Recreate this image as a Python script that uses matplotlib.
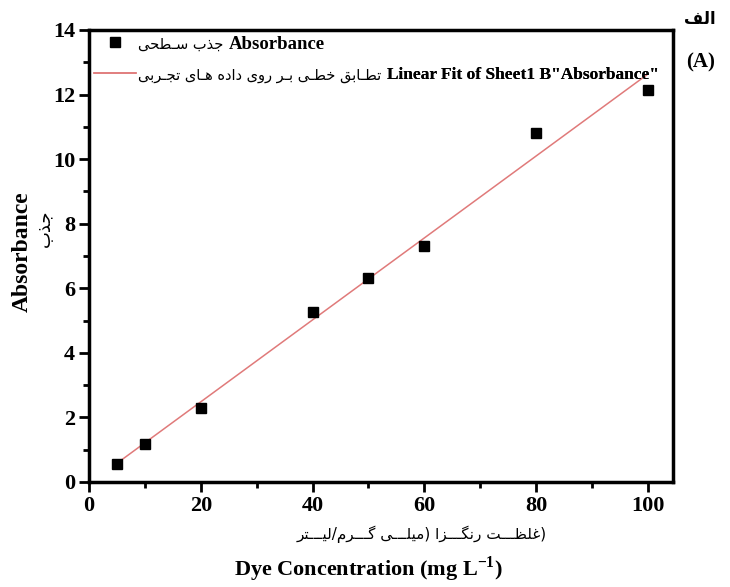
import matplotlib
matplotlib.use("Agg")
import matplotlib.pyplot as plt
import numpy as np
from matplotlib.ticker import MultipleLocator

# Dye concentration vs absorbance, with linear fit

conc = [5, 10, 20, 40, 50, 60, 80, 100]
absorb = [0.55, 1.18, 2.30, 5.26, 6.33, 7.30, 10.80, 12.15]

# Persian presentation forms: isolated, final, initial, medial
FORMS = {
    'ا': ('\uFE8D', '\uFE8E'),
    'ب': ('\uFE8F', '\uFE90', '\uFE91', '\uFE92'),
    'ت': ('\uFE95', '\uFE96', '\uFE97', '\uFE98'),
    'ج': ('\uFE9D', '\uFE9E', '\uFE9F', '\uFEA0'),
    'ح': ('\uFEA1', '\uFEA2', '\uFEA3', '\uFEA4'),
    'خ': ('\uFEA5', '\uFEA6', '\uFEA7', '\uFEA8'),
    'د': ('\uFEA9', '\uFEAA'),
    'ذ': ('\uFEAB', '\uFEAC'),
    'ر': ('\uFEAD', '\uFEAE'),
    'ز': ('\uFEAF', '\uFEB0'),
    'س': ('\uFEB1', '\uFEB2', '\uFEB3', '\uFEB4'),
    'ط': ('\uFEC1', '\uFEC2', '\uFEC3', '\uFEC4'),
    'ظ': ('\uFEC5', '\uFEC6', '\uFEC7', '\uFEC8'),
    'غ': ('\uFECD', '\uFECE', '\uFECF', '\uFED0'),
    'ف': ('\uFED1', '\uFED2', '\uFED3', '\uFED4'),
    'ق': ('\uFED5', '\uFED6', '\uFED7', '\uFED8'),
    'ل': ('\uFEDD', '\uFEDE', '\uFEDF', '\uFEE0'),
    'م': ('\uFEE1', '\uFEE2', '\uFEE3', '\uFEE4'),
    'ن': ('\uFEE5', '\uFEE6', '\uFEE7', '\uFEE8'),
    'ه': ('\uFEE9', '\uFEEA', '\uFEEB', '\uFEEC'),
    'و': ('\uFEED', '\uFEEE'),
    'ی': ('\uFBFC', '\uFBFD', '\uFBFE', '\uFBFF'),
    'گ': ('\uFB92', '\uFB93', '\uFB94', '\uFB95'),
    'ـ': ('\u0640',) * 4,
}


def shape(s):
    out = []
    for i, c in enumerate(s):
        if c not in FORMS:
            out.append(c)
            continue
        f = FORMS[c]
        prev = s[i - 1] if i > 0 else ''
        nxt = s[i + 1] if i + 1 < len(s) else ''
        jp = prev in FORMS and len(FORMS[prev]) == 4
        jn = len(f) == 4 and nxt in FORMS
        if jp and jn:
            out.append(f[3])
        elif jp:
            out.append(f[1])
        elif jn:
            out.append(f[2])
        else:
            out.append(f[0])
    return ''.join(out)


def rtl(s):
    v = shape(s)[::-1]
    return v.translate(str.maketrans('()', ')('))


fa_points = rtl('جذب سـطحی')
fa_fit = rtl('تطـابق خطـی بـر روی داده هـای تجـربی')
fa_xlabel = rtl('(غلظـــت رنگـــزا (میلـــی گـــرم/لیـــتر')
fa_ylabel = rtl('جذب')
fa_panel = rtl('الف')
en_labels = ['Absorbance', 'Linear Fit of Sheet1 B"Absorbance"']
fa_labels = [fa_points, fa_fit]

plt.rcParams['mathtext.fontset'] = 'custom'
plt.rcParams['mathtext.rm'] = 'Liberation Serif'
plt.rcParams['mathtext.bf'] = 'Liberation Serif:bold'

fs_leg = [13.5, 12.5]
fs_fa = [10.5, 10.5]

fig = plt.figure(figsize=(7.30, 5.87), dpi=100)
ax = fig.add_axes([0.1219, 0.1789, 0.8, 0.77])
r = fig.canvas.get_renderer()


def text_width(s, **kw):
    t = fig.text(0, 0, s, **kw)
    w = t.get_window_extent(r).width
    t.remove()
    return w


# gap between handle and English text leaves room for the Persian part
pads = [(text_width(fa, family='DejaVu Sans', size=fsf) + 8) / (fsl * fig.dpi / 72)
        for fa, fsf, fsl in zip(fa_labels, fs_fa, fs_leg)]

slope, icpt = np.polyfit(conc, absorb, 1)
xf = np.array([min(conc), max(conc)])

h_pts, = ax.plot(conc, absorb, 's', color='black', ms=7.5, zorder=3)
h_fit, = ax.plot(xf, slope * xf + icpt, color='#e07a7a', lw=1.1)

ax.set_xlim(0, 104.5)
ax.set_ylim(0, 14)
ax.xaxis.set_major_locator(MultipleLocator(20))
ax.xaxis.set_minor_locator(MultipleLocator(10))
ax.yaxis.set_major_locator(MultipleLocator(2))
ax.yaxis.set_minor_locator(MultipleLocator(1))
ax.tick_params(which='major', direction='out', length=7, width=2, pad=3)
ax.tick_params(which='minor', direction='out', length=4, width=2)
for lab in ax.get_xticklabels() + ax.get_yticklabels():
    lab.set_fontfamily('Liberation Serif')
    lab.set_fontweight('bold')
    lab.set_fontsize(16)
for sp_ in ax.spines.values():
    sp_.set_linewidth(2.5)

row_top = [1.0, 0.929]
hlen = [2.2, 2.4]
legs = []
for i, (h, en) in enumerate(zip([h_pts, h_fit], en_labels)):
    leg = ax.legend([h], [en], loc='upper left',
                    bbox_to_anchor=(0, row_top[i]), frameon=False,
                    borderaxespad=0.0, borderpad=0.3, handlelength=hlen[i],
                    handletextpad=pads[i],
                    prop={'family': 'Liberation Serif', 'weight': 'bold',
                          'size': fs_leg[i]})
    ax.add_artist(leg)
    legs.append(leg)

for leg, fa, fsf in zip(legs, fa_labels, fs_fa):
    ax.annotate(fa, xy=(0, 0.5), xycoords=leg.get_texts()[0],
                xytext=(-4, 0), textcoords='offset points',
                ha='right', va='center', family='DejaVu Sans', size=fsf,
                annotation_clip=False)

fig.text(0.030, 0.572, 'Absorbance', rotation=90, ha='center', va='center',
         family='Liberation Serif', weight='bold', fontsize=17)
fig.text(0.062, 0.612, fa_ylabel, rotation=90, ha='center', va='center',
         family='DejaVu Sans', fontsize=13)
fig.text(0.578, 0.089, fa_xlabel, ha='center', va='center',
         family='DejaVu Sans', fontsize=11)
fig.text(0.505, 0.030, r'Dye Concentration (mg L$^{\mathbf{-1}}$)',
         ha='center', va='center', family='Liberation Serif', weight='bold',
         fontsize=16)
fig.text(0.959, 0.968, fa_panel, ha='center', va='center',
         family='DejaVu Sans', weight='bold', fontsize=12)
fig.text(0.959, 0.894, '(A)', ha='center', va='center',
         family='Liberation Serif', weight='bold', fontsize=15)

fig.canvas.draw()
fig.savefig('out.png', dpi=100)
